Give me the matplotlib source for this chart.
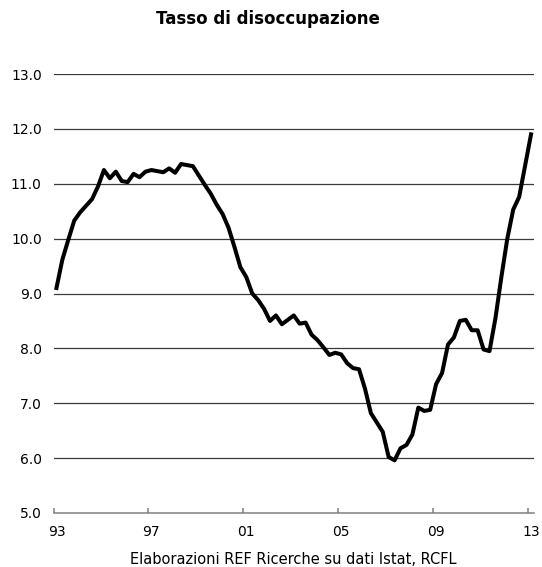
import numpy as np
import pandas as pd
import matplotlib
matplotlib.use("Agg")
import matplotlib.pyplot as plt

# quarterly unemployment rate, 1993Q1 - 2013Q1
quarters = pd.period_range("1993Q1", "2013Q1", freq="Q")
rate = [
    9.10, 9.62, 9.98, 10.33, 10.48, 10.60, 10.72, 10.95,   # 93-94
    11.25, 11.10, 11.22, 11.05, 11.03, 11.18, 11.12, 11.22,  # 95-96
    11.25, 11.23, 11.21, 11.28, 11.20, 11.36, 11.34, 11.32,  # 97-98
    11.15, 10.98, 10.82, 10.62, 10.45, 10.20, 9.85, 9.48,   # 99-00
    9.30, 9.00, 8.88, 8.72, 8.50, 8.60, 8.44, 8.52,        # 01-02
    8.60, 8.45, 8.47, 8.25, 8.15, 8.02, 7.88, 7.92,        # 03-04
    7.89, 7.73, 7.64, 7.62, 7.27, 6.82, 6.65, 6.48,        # 05-06
    6.02, 5.96, 6.18, 6.24, 6.43, 6.92, 6.86, 6.88,        # 07-08
    7.35, 7.55, 8.07, 8.20, 8.50, 8.52, 8.33, 8.33,        # 09-10
    7.98, 7.95, 8.55, 9.30, 10.00, 10.53, 10.76, 11.33,    # 11-12
    11.90,                                                 # 13
]
tick_labels = ["93", "97", "01", "05", "09", "13"]
y_ticks = [5, 6, 7, 8, 9, 10, 11, 12, 13]

# category axis: one slot per quarter, labels on each 4th year
x = np.arange(len(quarters))
label_pos = [i for i, q in enumerate(quarters)
             if q.quarter == 1 and (q.year - 1993) % 4 == 0]

fig = plt.figure(figsize=(5.42, 5.67), dpi=100)
ax = fig.add_axes([53.5 / 542, 1 - 513 / 567, 480.5 / 542, 439 / 567])

ax.plot(x, rate, color="black", lw=2.9, clip_on=False, zorder=3)

ax.set_xlim(-0.5, len(quarters) - 0.5)
ax.set_ylim(5, 13)
ax.set_yticks(y_ticks)
ax.set_yticklabels([f"{v:.1f}" for v in y_ticks])
ax.set_xticks(label_pos)
ax.set_xticklabels(tick_labels)
ax.set_xticks([p - 0.5 for p in label_pos], minor=True)

for v in y_ticks[1:]:
    ax.axhline(v, color="#3a3a3a", lw=0.9, zorder=1)

for s in ["top", "right", "left"]:
    ax.spines[s].set_visible(False)
ax.spines["bottom"].set_color("#808080")
ax.spines["bottom"].set_linewidth(1.1)

ax.tick_params(axis="y", length=0, pad=8.5, labelsize=10)
ax.tick_params(axis="x", which="major", length=0, pad=9, labelsize=10)
ax.tick_params(axis="x", which="minor", direction="in", length=3.5, width=1.1,
               color="#808080")

fig.text(268 / 542, 1 - 24 / 567, "Tasso di disoccupazione", ha="center",
         va="baseline", fontsize=12, fontweight="bold")
fig.text(293 / 542, 1 - 564 / 567, "Elaborazioni REF Ricerche su dati Istat, RCFL",
         ha="center", va="baseline", fontsize=10.5)

fig.savefig("out.png", dpi=100)
